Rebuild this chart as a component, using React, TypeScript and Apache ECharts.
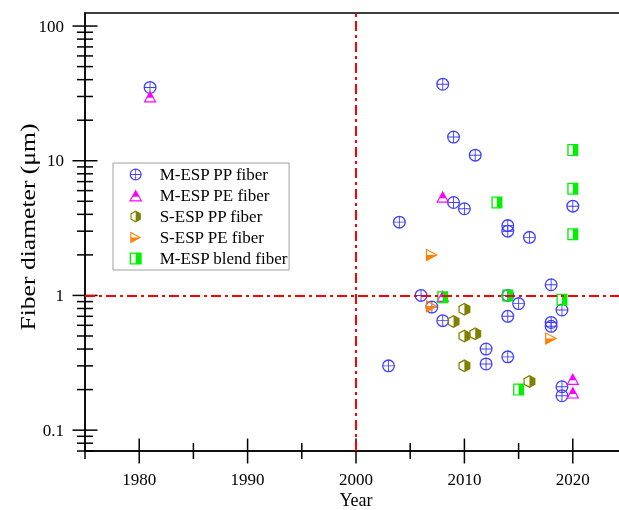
import React, { useEffect, useRef } from 'react';
import * as echarts from 'echarts';

// ---- data ----
const ppYears = [1981, 2008, 2009, 2011, 2009, 2010, 2020, 2004, 2014, 2014, 2016, 2018, 2006, 2014, 2015, 2019, 2007, 2008, 2014, 2018, 2018, 2012, 2012, 2014, 2003, 2019, 2019];
const ppValues = [35, 37, 15, 11, 4.9, 4.4, 4.6, 3.5, 3.3, 3.0, 2.7, 1.2, 1.0, 1.0, 0.87, 0.78, 0.82, 0.65, 0.7, 0.63, 0.59, 0.4, 0.31, 0.35, 0.3, 0.21, 0.18];

const peYears = [1981, 2008, 2008, 2020, 2020];
const peValues = [30, 5.4, 0.99, 0.24, 0.19];

const sppYears = [2010, 2009, 2010, 2011, 2010, 2016];
const sppValues = [0.79, 0.64, 0.5, 0.52, 0.3, 0.23];

const speYears = [2007, 2007, 2018];
const speValues = [2.0, 0.83, 0.48];

const blendYears = [2020, 2020, 2013, 2020, 2008, 2014, 2019, 2015];
const blendValues = [12, 6.2, 4.9, 2.85, 0.97, 1.0, 0.93, 0.2];

const seriesNames = ['M-ESP PP fiber', 'M-ESP PE fiber', 'S-ESP PP fiber', 'S-ESP PE fiber', 'M-ESP blend fiber'];

const yLabelValues = [0.1, 1, 10, 100];
const yMinorTickValues = [0.07, 0.08, 0.09, 0.2, 0.3, 0.4, 0.5, 0.6, 0.7, 0.8, 0.9, 2, 3, 4, 5, 6, 7, 8, 9, 20, 30, 40, 50, 60, 70, 80, 90];
const xLabelYears = [1980, 1990, 2000, 2010, 2020];
const xMinorTickYears = [1975, 1985, 1995, 2005, 2015, 2025];

const refYear = 2000;
const refDiameter = 1;

const yTitle = 'Fiber diameter (μm)';
const xTitle = 'Year';

// ---- marker shapes ----
const SYM_PP = 'path://M50 0A50 50 0 1 1 50 100A50 50 0 1 1 50 0ZM50 10A40 40 0 1 0 50 90A40 40 0 1 0 50 10ZM6 46.5L94 46.5L94 53.5L6 53.5ZM46.5 6L53.5 6L53.5 94L46.5 94Z';
const SYM_PE = 'path://M50 0L100 90L0 90ZM29 55L15 81L85 81L71 55Z';
const SYM_SPP = 'path://M43.5 0L87 25L87 75L43.5 100L0 75L0 25ZM43.5 12L9 31L9 69L43.5 88Z';
const SYM_SPE = 'path://M0 0L90 50L0 100ZM9 15L9 50L72 50Z';
const SYM_BLEND = 'path://M0 0L100 0L100 100L0 100ZM12 10L12 90L50 90L50 10Z';

const FONT = "'Liberation Serif', 'Times New Roman', serif";

function pairs(xs: number[], ys: number[]) {
  return xs.map((x, i) => [x, ys[i]]);
}

export default function App() {
  const ref = useRef<HTMLDivElement>(null);
  useEffect(() => {
    if (!ref.current) return;
    const chart = echarts.init(ref.current, undefined, { renderer: 'svg' });

    const tickData: number[][] = [];
    yLabelValues.forEach((v) => tickData.push([1975, v, 0, 1]));
    yMinorTickValues.forEach((v) => tickData.push([1975, v, 0, 0]));
    xLabelYears.forEach((y) => tickData.push([y, 0.07, 1, 1]));
    xMinorTickYears.forEach((y) => tickData.push([y, 0.07, 1, 0]));

    const scatter = (name: string, symbol: string, size: number[], color: string, xs: number[], ys: number[], extra: any = {}) => ({
      type: 'scatter',
      name,
      symbol,
      symbolSize: size,
      itemStyle: { color, borderWidth: 0, opacity: 1 },
      data: pairs(xs, ys),
      ...extra,
    });

    chart.setOption({
      animation: false,
      textStyle: { fontFamily: FONT },
      grid: {
        left: 85,
        top: 13,
        width: 542,
        height: 438,
        containLabel: false,
        outerBoundsMode: 'none',
        show: true,
        borderColor: '#000',
        borderWidth: 1.5,
      },
      legend: {
        orient: 'vertical',
        left: 113,
        top: 163,
        data: seriesNames,
        itemWidth: 38,
        itemHeight: 12,
        itemGap: 4,
        padding: [3, 1, 3, 16],
        borderColor: '#a0a0a0',
        borderWidth: 1,
        selectedMode: false,
        textStyle: { fontSize: 17, fontFamily: FONT, color: '#000' },
      },
      graphic: [
        {
          type: 'text',
          x: 28,
          y: 227,
          rotation: Math.PI / 2,
          scaleX: 1.22,
          style: {
            text: yTitle,
            fontSize: 21,
            fontFamily: FONT,
            fill: '#000',
            align: 'center',
            verticalAlign: 'middle',
          },
        },
      ],
      xAxis: {
        type: 'value',
        min: 1975,
        max: 2025,
        interval: 5,
        axisLine: { lineStyle: { color: '#000', width: 1.5 } },
        axisTick: { show: false },
        splitLine: { show: false },
        axisLabel: {
          margin: 20,
          fontSize: 17,
          color: '#000',
          fontFamily: FONT,
          formatter: (v: number) => (xLabelYears.includes(v) ? String(v) : ''),
        },
        name: xTitle,
        nameLocation: 'middle',
        nameGap: 40,
        nameMoveOverlap: false,
        nameTextStyle: { fontSize: 18, lineHeight: 18, color: '#000', fontFamily: FONT },
      },
      yAxis: {
        type: 'log',
        logBase: 10,
        min: 0.07,
        max: 125,
        axisLine: { lineStyle: { color: '#000', width: 1.5 } },
        axisTick: { show: false },
        splitLine: { show: false },
        axisLabel: {
          margin: 21,
          fontSize: 17,
          color: '#000',
          fontFamily: FONT,
          showMinLabel: false,
          showMaxLabel: false,
          formatter: (v: number) => {
            const r = Number(Number(v).toPrecision(3));
            return yLabelValues.includes(r) ? String(r) : '';
          },
        },
      },
      series: [
        {
          type: 'custom',
          name: 'ticks',
          silent: true,
          clip: false,
          data: tickData,
          renderItem: (params: any, api: any) => {
            const x = api.value(0);
            const y = api.value(1);
            const kind = api.value(2);
            const major = api.value(3);
            const p = api.coord([x, y]);
            const L = major ? 12.5 : 8;
            const shape = kind === 0
              ? { x1: p[0] - L, y1: p[1], x2: p[0] + L, y2: p[1] }
              : { x1: p[0], y1: p[1] - L, x2: p[0], y2: p[1] + L };
            return { type: 'line', shape, style: { stroke: '#000', lineWidth: 1.5 } };
          },
        },
        scatter(seriesNames[0], SYM_PP, [13, 13], '#4040ff', ppYears, ppValues, {
          markLine: {
            silent: true,
            symbol: 'none',
            label: { show: false },
            lineStyle: { color: '#ff0000', width: 2, type: [10, 4, 3, 4] },
            data: [{ xAxis: refYear }, { yAxis: refDiameter }],
          },
        }),
        scatter(seriesNames[1], SYM_PE, [13, 12], '#ff00ff', peYears, peValues),
        scatter(seriesNames[2], SYM_SPP, [12, 13], '#808000', sppYears, sppValues),
        scatter(seriesNames[3], SYM_SPE, [12, 13], '#ff8000', speYears, speValues),
        scatter(seriesNames[4], SYM_BLEND, [11, 12], '#00f000', blendYears, blendValues),
      ],
    });
    return () => chart.dispose();
  }, []);
  return <div ref={ref} style={{ position: 'fixed', left: 0, top: 0, width: 619, height: 510 }} />;
}
